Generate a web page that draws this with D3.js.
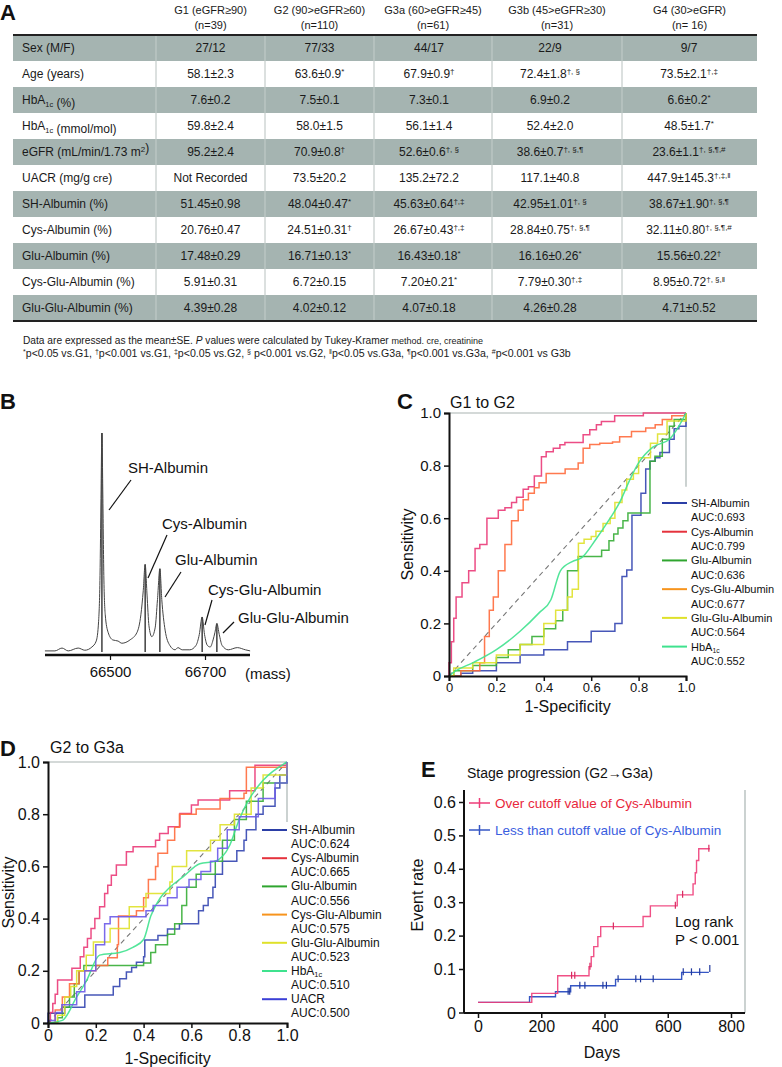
<!DOCTYPE html>
<html><head><meta charset="utf-8">
<script src="https://cdn.jsdelivr.net/npm/d3@7"></script>
<style>body{margin:0;background:#fff}svg{display:block;font-family:"Liberation Sans",Arial,Helvetica,sans-serif}</style>
</head><body>
<svg id="fig" width="782" height="1067"></svg>
<script>
// ---------------- DATA ----------------
const groupNames = ["G1 (eGFR≥90)", "G2 (90>eGFR≥60)", "G3a (60>eGFR≥45)", "G3b (45>eGFR≥30)", "G4 (30>eGFR)"];
const groupN = ["(n=39)", "(n=110)", "(n=61)", "(n=31)", "(n= 16)"];
const rowLabels = [
  [["Sex (M/F)", ""]],
  [["Age (years)", ""]],
  [["HbA", ""], ["1c", "sub"], [" (%)", ""]],
  [["HbA", ""], ["1c", "sub"], [" (mmol/mol)", ""]],
  [["eGFR (mL/min/1.73 m", ""], ["2", "sup"], [")", ""]],
  [["UACR (mg/g", ""], [" cre", "small"], [")", ""]],
  [["SH-Albumin (%)", ""]],
  [["Cys-Albumin (%)", ""]],
  [["Glu-Albumin (%)", ""]],
  [["Cys-Glu-Albumin (%)", ""]],
  [["Glu-Glu-Albumin (%)", ""]]
];
const tableValues = [
  [["27/12",""],["77/33",""],["44/17",""],["22/9",""],["9/7",""]],
  [["58.1±2.3",""],["63.6±0.9","*"],["67.9±0.9","†"],["72.4±1.8","†, §"],["73.5±2.1","†,‡"]],
  [["7.6±0.2",""],["7.5±0.1",""],["7.3±0.1",""],["6.9±0.2",""],["6.6±0.2","*"]],
  [["59.8±2.4",""],["58.0±1.5",""],["56.1±1.4",""],["52.4±2.0",""],["48.5±1.7","*"]],
  [["95.2±2.4",""],["70.9±0.8","†"],["52.6±0.6","†, §"],["38.6±0.7","†, §,¶"],["23.6±1.1","†, §,¶,#"]],
  [["Not Recorded",""],["73.5±20.2",""],["135.2±72.2",""],["117.1±40.8",""],["447.9±145.3","†,‡,‖"]],
  [["51.45±0.98",""],["48.04±0.47","*"],["45.63±0.64","†,‡"],["42.95±1.01","†, §"],["38.67±1.90","†, §,¶"]],
  [["20.76±0.47",""],["24.51±0.31","†"],["26.67±0.43","†,‡"],["28.84±0.75","†, §,¶"],["32.11±0.80","†, §,¶,#"]],
  [["17.48±0.29",""],["16.71±0.13","*"],["16.43±0.18","*"],["16.16±0.26","*"],["15.56±0.22","†"]],
  [["5.91±0.31",""],["6.72±0.15",""],["7.20±0.21","*"],["7.79±0.30","†,‡"],["8.95±0.72","†, §,‖"]],
  [["4.39±0.28",""],["4.02±0.12",""],["4.07±0.18",""],["4.26±0.28",""],["4.71±0.52",""]]
];
const footnote2 = [["*","p<0.05 vs.G1, "],["†","p<0.001 vs.G1, "],["‡","p<0.05 vs.G2, "],[" §"," p<0.001 vs.G2, "],["‖","p<0.05 vs.G3a, "],["¶","p<0.001 vs.G3a, "],["#","p<0.001 vs G3b"]];

// Panel B: spectrum (mass, relative intensity)
const spectrum = [[66363,0.5],[66384,0.5],[66399,1.8],[66412,0.5],[66433,1.8],[66447,0.8],[66462,2.3],[66471,5],[66476,14],[66479,35],[66481,70],[66483,100],[66485,70],[66487,35],[66490,17],[66496,9],[66506,5.5],[66517,5],[66525,4],[66542,5.5],[66557,9],[66565,17],[66570,28],[66574,40],[66578,26],[66582,12],[66588,7],[66595,11],[66600,24],[66605,38],[66609,24],[66616,10],[66626,3],[66637,1],[66643,2],[66652,1],[66668,1],[66681,3],[66688,8],[66694,16],[66699,8],[66705,3],[66711,2.3],[66717,5.5],[66721,9],[66725,13],[66730,8],[66736,3],[66749,1],[66768,2],[66785,1],[66795,0.5]];
const peakMass = [66483, 66574, 66605, 66694, 66725];
const peakHeight = [100, 40, 38, 16, 13];
const peakNames = ["SH-Albumin", "Cys-Albumin", "Glu-Albumin", "Cys-Glu-Albumin", "Glu-Glu-Albumin"];
const massTicks = [66500, 66700];

// Panel C: ROC G1 to G2 (step points: at fpr x the curve rises to tpr y)
const rocC_SH = [[0,0],[0.05,0.01],[0.1,0.02],[0.2,0.05],[0.3,0.08],[0.4,0.1],[0.5,0.13],[0.6,0.17],[0.7,0.2],[0.73,0.378],[0.75,0.403],[0.772,0.611],[0.81,0.695],[0.83,0.787],[0.848,0.817],[0.87,0.83],[0.89,0.85],[0.93,0.9],[0.95,0.94],[0.97,0.95],[1,1]];
const rocC_Cys = [[0,0],[0,0.05],[0.01,0.13],[0.02,0.22],[0.03,0.3],[0.055,0.355],[0.083,0.4],[0.11,0.485],[0.13,0.5],[0.16,0.6],[0.208,0.63],[0.236,0.64],[0.264,0.66],[0.285,0.68],[0.313,0.71],[0.335,0.72],[0.36,0.76],[0.39,0.834],[0.41,0.853],[0.44,0.866],[0.468,0.879],[0.489,0.888],[0.566,0.917],[0.594,0.936],[0.622,0.955],[0.643,0.968],[0.699,0.99],[0.82,1],[1,1]];
const rocC_Glu = [[0,0],[0.02,0.02],[0.1,0.04],[0.2,0.07],[0.25,0.1],[0.3,0.12],[0.35,0.15],[0.4,0.18],[0.45,0.21],[0.48,0.25],[0.5,0.4],[0.545,0.454],[0.644,0.478],[0.675,0.514],[0.695,0.54],[0.713,0.563],[0.734,0.59],[0.755,0.62],[0.848,0.817],[0.869,0.836],[0.9,0.9],[0.93,0.95],[0.95,0.975],[1,1]];
const rocC_CysGlu = [[0,0],[0.05,0.02],[0.13,0.05],[0.15,0.15],[0.17,0.25],[0.187,0.3],[0.208,0.4],[0.236,0.5],[0.264,0.59],[0.292,0.63],[0.313,0.67],[0.335,0.695],[0.36,0.716],[0.38,0.735],[0.41,0.77],[0.49,0.787],[0.545,0.81],[0.566,0.866],[0.594,0.88],[0.636,0.885],[0.69,0.89],[0.72,0.91],[0.77,0.93],[0.83,0.943],[0.87,0.955],[0.9,0.975],[0.94,0.99],[1,1]];
const rocC_GluGlu = [[0,0],[0.02,0.03],[0.1,0.05],[0.2,0.08],[0.3,0.12],[0.4,0.2],[0.45,0.25],[0.5,0.3],[0.52,0.33],[0.546,0.505],[0.57,0.52],[0.6,0.53],[0.62,0.55],[0.65,0.58],[0.68,0.6],[0.7,0.66],[0.73,0.707],[0.75,0.748],[0.778,0.77],[0.8,0.83],[0.85,0.885],[0.88,0.92],[0.92,0.97],[1,1]];
const rocC_HbA1c = [[0,0],[0.03,0.02],[0.1,0.05],[0.2,0.1],[0.3,0.17],[0.38,0.24],[0.43,0.29],[0.47,0.4],[0.52,0.435],[0.56,0.45],[0.62,0.52],[0.68,0.6],[0.72,0.66],[0.76,0.74],[0.8,0.81],[0.86,0.87],[0.93,0.9],[0.97,0.95],[1,1]];
const aucC = ["0.693", "0.799", "0.636", "0.677", "0.564", "0.552"];

// Panel D: ROC G2 to G3a
const rocD_SH = [[0,0],[0,0.037],[0.07,0.06],[0.154,0.107],[0.273,0.14],[0.3,0.17],[0.328,0.195],[0.35,0.213],[0.37,0.233],[0.4,0.254],[0.405,0.318],[0.46,0.335],[0.5,0.36],[0.55,0.38],[0.63,0.43],[0.65,0.45],[0.67,0.48],[0.69,0.52],[0.7,0.57],[0.73,0.62],[0.79,0.66],[0.82,0.7],[0.83,0.74],[0.87,0.8],[0.9,0.83],[0.95,0.9],[0.97,0.95],[1,1]];
const rocD_Cys = [[0,0],[0.01,0.04],[0.02,0.075],[0.03,0.11],[0.04,0.165],[0.1,0.21],[0.135,0.254],[0.15,0.29],[0.165,0.324],[0.18,0.362],[0.196,0.4],[0.216,0.445],[0.237,0.496],[0.25,0.528],[0.265,0.566],[0.286,0.605],[0.328,0.656],[0.356,0.675],[0.45,0.7],[0.467,0.726],[0.503,0.752],[0.552,0.803],[0.6,0.835],[0.628,0.854],[0.76,0.89],[0.866,0.988],[1,1]];
const rocD_Glu = [[0,0],[0.04,0.02],[0.06,0.06],[0.09,0.1],[0.11,0.15],[0.13,0.2],[0.15,0.22],[0.4,0.23],[0.43,0.27],[0.45,0.3],[0.5,0.34],[0.53,0.38],[0.56,0.45],[0.58,0.52],[0.62,0.57],[0.7,0.62],[0.73,0.7],[0.78,0.78],[0.83,0.85],[0.9,0.92],[1,1]];
const rocD_CysGlu = [[0,0],[0.03,0.05],[0.06,0.1],[0.09,0.15],[0.13,0.2],[0.2,0.22],[0.25,0.25],[0.29,0.3],[0.295,0.41],[0.37,0.43],[0.4,0.48],[0.42,0.55],[0.45,0.6],[0.46,0.65],[0.5,0.7],[0.53,0.75],[0.55,0.8],[0.62,0.82],[0.72,0.86],[0.82,0.88],[0.83,0.98],[1,1]];
const rocD_GluGlu = [[0,0],[0.04,0.03],[0.07,0.1],[0.095,0.14],[0.12,0.2],[0.16,0.26],[0.19,0.31],[0.26,0.362],[0.34,0.445],[0.41,0.496],[0.51,0.54],[0.52,0.6],[0.58,0.66],[0.68,0.7],[0.72,0.76],[0.78,0.8],[0.85,0.9],[0.9,0.95],[1,1]];
const rocD_HbA1c = [[0,0],[0.06,0.01],[0.12,0.1],[0.16,0.16],[0.216,0.26],[0.3,0.27],[0.355,0.29],[0.4,0.32],[0.43,0.41],[0.47,0.48],[0.51,0.52],[0.565,0.56],[0.635,0.61],[0.7,0.62],[0.76,0.68],[0.8,0.78],[0.85,0.87],[0.9,0.93],[1,1]];
const rocD_UACR = [[0,0],[0,0.01],[0.03,0.04],[0.058,0.07],[0.12,0.12],[0.154,0.2],[0.2,0.3],[0.237,0.38],[0.26,0.407],[0.41,0.43],[0.44,0.45],[0.5,0.48],[0.54,0.52],[0.59,0.55],[0.64,0.58],[0.68,0.62],[0.71,0.67],[0.75,0.74],[0.8,0.79],[0.88,0.86],[0.95,0.92],[1,1]];
const aucD = ["0.624", "0.665", "0.556", "0.575", "0.523", "0.510", "0.500"];

// Panel E: Kaplan-Meier (days, event rate)
const kmOver = [[0,0],[170,0.027],[252,0.08],[351,0.107],[358,0.137],[366,0.167],[379,0.197],[388,0.227],[522,0.257],[545,0.289],[630,0.322],[680,0.355],[687,0.388],[691,0.425],[698,0.46],[733,0.46]];
const kmOverCensor = [[296,0.08],[306,0.08],[354,0.107],[428,0.227],[624,0.289],[647,0.322],[730,0.46]];
const kmLess = [[0,0],[163,0.017],[245,0.032],[293,0.05],[435,0.069],[644,0.09],[730,0.09]];
const kmLessCensor = [[285,0.032],[290,0.032],[322,0.05],[338,0.05],[395,0.05],[406,0.05],[443,0.069],[499,0.069],[514,0.069],[554,0.069],[649,0.09],[675,0.09],[701,0.09],[733,0.1]];
const kmTicksY = [0.1, 0.2, 0.3, 0.4, 0.5, 0.6];
const kmTicksX = [0, 200, 400, 600, 800];
const kmLegend = ["Over cutoff value of Cys-Albumin", "Less than cutoff value of Cys-Albumin"];

// ---------------- DRAW ----------------
const svg = d3.select("#fig");
svg.append("rect").attr("width", 782).attr("height", 1067).attr("fill", "#fff");
const ink = "#111";

function panelLabel(t, x, y) {
  svg.append("text").attr("x", x).attr("y", y).attr("font-size", 22).attr("font-weight", "bold").attr("fill", ink).text(t);
}

// ---- Panel A: table ----
panelLabel("A", 0, 20);
const colX = [13, 156, 265, 374, 492, 622, 757];
const valX = [210.5, 319.5, 429, 550, 689];
const rowTop = 35, rowH = 26;
const tA = svg.append("g");
tableValues.forEach((row, i) => {
  const y0 = rowTop + i * rowH;
  const shaded = i % 2 === 0;
  if (shaded) tA.append("rect").attr("x", colX[0]).attr("y", y0).attr("width", colX[6] - colX[0]).attr("height", rowH).attr("fill", "#a5b4b1");
  for (let c = 1; c <= 5; c++) {
    tA.append("line").attr("x1", colX[c]).attr("x2", colX[c]).attr("y1", y0).attr("y2", y0 + rowH)
      .attr("stroke", shaded ? "#c4cecb" : "#b8c1bf").attr("stroke-width", 1);
  }
  const lt = tA.append("text").attr("x", 22).attr("y", y0 + 17).attr("font-size", 12).attr("fill", "#1a1a1a");
  rowLabels[i].forEach(([s, k]) => {
    if (k === "sub") { lt.append("tspan").attr("font-size", 7.5).attr("dy", 2.5).text(s); lt.append("tspan").attr("dy", -2.5).text(""); }
    else if (k === "sup") { lt.append("tspan").attr("font-size", 8).attr("dy", -4).text(s); lt.append("tspan").attr("dy", 4).text(""); }
    else if (k === "small") { lt.append("tspan").attr("font-size", 11).text(s); }
    else lt.append("tspan").text(s);
  });
  row.forEach(([v, sup], c) => {
    const t = tA.append("text").attr("x", valX[c]).attr("y", y0 + 17).attr("font-size", 12).attr("text-anchor", "middle").attr("fill", "#1a1a1a");
    t.append("tspan").text(v);
    if (sup) { t.append("tspan").attr("font-size", 8).attr("dy", -4.5).text(sup); }
  });
});
tA.append("line").attr("x1", colX[0]).attr("x2", colX[6]).attr("y1", rowTop).attr("y2", rowTop).attr("stroke", "#222").attr("stroke-width", 2);
tA.append("line").attr("x1", colX[0]).attr("x2", colX[6]).attr("y1", rowTop + rowH * tableValues.length).attr("y2", rowTop + rowH * tableValues.length).attr("stroke", "#222").attr("stroke-width", 2);
groupNames.forEach((g, c) => {
  const cx = (colX[c + 1] + colX[c + 2]) / 2;
  tA.append("text").attr("x", cx).attr("y", 14).attr("font-size", 11).attr("text-anchor", "middle").attr("fill", "#1a1a1a").text(g);
  tA.append("text").attr("x", cx).attr("y", 29).attr("font-size", 11).attr("text-anchor", "middle").attr("fill", "#1a1a1a").text(groupN[c]);
});
// footnotes
const f1 = svg.append("text").attr("x", 23).attr("y", 344).attr("font-size", 10.2).attr("fill", "#1a1a1a");
f1.append("tspan").text("Data are expressed as the mean±SE. ");
f1.append("tspan").attr("font-style", "italic").text("P");
f1.append("tspan").text(" values were calculated by Tukey-Kramer ");
f1.append("tspan").attr("font-size", 9).text("method. cre, creatinine");
const f2 = svg.append("text").attr("x", 23).attr("y", 357).attr("font-size", 10.6).attr("fill", "#1a1a1a");
footnote2.forEach(([s, t]) => {
  f2.append("tspan").attr("font-size", 7).attr("dy", -3.5).text(s);
  f2.append("tspan").attr("dy", 3.5).text(t);
});

// ---- Panel B: spectrum ----
panelLabel("B", 0, 409);
const bx = d3.scaleLinear().domain([66500, 66700]).range([110, 205]);
const by = d3.scaleLinear().domain([0, 100]).range([652, 433]);
const gB = svg.append("g");
gB.selectAll("line.stick").data(peakMass).join("line").attr("class", "stick")
  .attr("x1", d => bx(d)).attr("x2", d => bx(d)).attr("y1", by(0)).attr("y2", (d, i) => by(peakHeight[i]))
  .attr("stroke", "#222").attr("stroke-width", 1.3);
gB.append("path").datum(spectrum).attr("fill", "none").attr("stroke", "#444").attr("stroke-width", 1)
  .attr("d", d3.line().x(d => bx(d[0])).y(d => by(d[1])).curve(d3.curveMonotoneX));
const axB = gB.append("g").attr("transform", "translate(0,655)")
  .call(d3.axisBottom(bx).tickValues(massTicks).tickSize(5).tickPadding(6).tickFormat(d3.format("d")));
axB.select(".domain").remove();
axB.selectAll("line").attr("stroke", ink).attr("stroke-width", 1.2);
axB.selectAll("text").attr("font-size", 15).attr("fill", ink).attr("font-family", "inherit");
gB.append("line").attr("x1", 45).attr("x2", 250).attr("y1", 655).attr("y2", 655).attr("stroke", ink).attr("stroke-width", 2.5);
gB.append("text").attr("x", 245).attr("y", 679).attr("font-size", 15).attr("fill", ink).text("(mass)");
const annLayout = [
  {tx: 128, ty: 473, l: [131, 480, 109, 510]},
  {tx: 162, ty: 529, l: [167, 535, 148, 578]},
  {tx: 175, ty: 565, l: [181, 572, 165, 597]},
  {tx: 208, ty: 595, l: [212, 600, 205, 625]},
  {tx: 238, ty: 623, l: [234, 622, 223, 633]}
];
peakNames.forEach((n, i) => {
  const a = annLayout[i];
  gB.append("text").attr("x", a.tx).attr("y", a.ty).attr("font-size", 15).attr("fill", ink).text(n);
  gB.append("line").attr("x1", a.l[0]).attr("y1", a.l[1]).attr("x2", a.l[2]).attr("y2", a.l[3]).attr("stroke", ink).attr("stroke-width", 1.2);
});

// ---- ROC helper ----
function rocPanel(opt) {
  const x = d3.scaleLinear().domain([0, 1]).range([opt.x0, opt.x1]);
  const y = d3.scaleLinear().domain([0, 1]).range([opt.y0, opt.y1]);
  const g = svg.append("g");
  g.append("line").attr("x1", x(0)).attr("x2", x(1)).attr("y1", y(1)).attr("y2", y(1)).attr("stroke", "#a9b4b2").attr("stroke-width", 1.2);
  g.append("line").attr("x1", x(1)).attr("x2", x(1)).attr("y1", y(1)).attr("y2", y(opt.rightEnd)).attr("stroke", "#a9b4b2").attr("stroke-width", 1.2);
  g.append("line").attr("x1", x(0)).attr("y1", y(0)).attr("x2", x(1)).attr("y2", y(1)).attr("stroke", "#777").attr("stroke-dasharray", "5,4").attr("stroke-width", 1.1);
  opt.series.forEach(s => {
    g.append("path").datum(s.data).attr("fill", "none").attr("stroke", s.color).attr("stroke-width", 1.5).attr("stroke-opacity", 0.9)
      .attr("d", d3.line().x(d => x(d[0])).y(d => y(d[1])).curve(s.smooth ? d3.curveMonotoneX : d3.curveStepAfter));
  });
  const ticks = [0, 0.2, 0.4, 0.6, 0.8, 1.0];
  const fmt = d => d === 0 ? "0" : d.toFixed(1);
  const ay = g.append("g").attr("transform", `translate(${x(0)},0)`).call(d3.axisLeft(y).tickValues(ticks).tickFormat(fmt).tickSize(5).tickPadding(3));
  const ax = g.append("g").attr("transform", `translate(0,${y(0)})`).call(d3.axisBottom(x).tickValues(ticks).tickFormat(fmt).tickSize(5).tickPadding(2));
  [ay, ax].forEach(a => {
    a.select(".domain").attr("stroke", ink).attr("stroke-width", 2);
    a.selectAll("line").attr("stroke", ink).attr("stroke-width", 1.5);
    a.selectAll("text").attr("fill", ink).attr("font-family", "inherit");
  });
  ay.selectAll("text").attr("font-size", opt.yTickSize);
  ax.selectAll("text").attr("font-size", opt.xTickSize);
  g.append("text").attr("x", (x(0) + x(1)) / 2).attr("y", opt.xTitleY).attr("text-anchor", "middle").attr("font-size", 16).attr("fill", ink).text("1-Specificity");
  g.append("text").attr("transform", `translate(${opt.yTitleX},${(y(0) + y(1)) / 2}) rotate(-90)`).attr("text-anchor", "middle").attr("font-size", 16).attr("fill", ink).text("Sensitivity");
  g.append("text").attr("x", opt.titleX).attr("y", opt.titleY).attr("font-size", 16).attr("fill", ink).text(opt.title);
  opt.series.forEach((s, i) => {
    const ly = opt.legY + i * 2 * opt.legStep;
    g.append("line").attr("x1", opt.legX).attr("x2", opt.legX + 25).attr("y1", ly).attr("y2", ly).attr("stroke", s.legColor).attr("stroke-width", 2);
    const t = g.append("text").attr("x", opt.legX + 29).attr("y", ly + 4).attr("font-size", opt.legFont).attr("fill", ink);
    if (s.name === "HbA1c") { t.append("tspan").text("HbA"); t.append("tspan").attr("font-size", opt.legFont * 0.62).attr("dy", 2).text("1c"); }
    else t.text(s.name);
    g.append("text").attr("x", opt.legX + 29).attr("y", ly + opt.legStep + 4).attr("font-size", opt.legFont).attr("fill", ink).text("AUC:" + s.auc);
  });
}

const colSH = "#3345b0", colCys = "#ea3a78", colGlu = "#35ad35", colCysGlu = "#ff6a3c", colGluGlu = "#dfe12a", colHb = "#3fe28e", colUACR = "#6c5ae8";

panelLabel("C", 397, 409);
rocPanel({
  x0: 449, x1: 686, y0: 676, y1: 413, rightEnd: 0.72,
  title: "G1 to G2", titleX: 450, titleY: 408,
  yTickSize: 15, xTickSize: 13, xTitleY: 712, yTitleX: 413,
  legX: 662, legY: 503, legStep: 14.36, legFont: 11,
  series: [
    {name: "SH-Albumin", auc: aucC[0], data: rocC_SH, color: colSH, legColor: "#2b3ea6"},
    {name: "Cys-Albumin", auc: aucC[1], data: rocC_Cys, color: colCys, legColor: "#e5323c"},
    {name: "Glu-Albumin", auc: aucC[2], data: rocC_Glu, color: colGlu, legColor: "#2fa52f"},
    {name: "Cys-Glu-Albumin", auc: aucC[3], data: rocC_CysGlu, color: colCysGlu, legColor: "#f7941d"},
    {name: "Glu-Glu-Albumin", auc: aucC[4], data: rocC_GluGlu, color: colGluGlu, legColor: "#dfe12a"},
    {name: "HbA1c", auc: aucC[5], data: rocC_HbA1c, color: colHb, legColor: colHb, smooth: true}
  ]
});

panelLabel("D", 0, 756);
rocPanel({
  x0: 48, x1: 287, y0: 1023, y1: 762, rightEnd: 0.77,
  title: "G2 to G3a", titleX: 50, titleY: 753,
  yTickSize: 16, xTickSize: 16, xTitleY: 1064, yTitleX: 14,
  legX: 262, legY: 830, legStep: 14.1, legFont: 12,
  series: [
    {name: "SH-Albumin", auc: aucD[0], data: rocD_SH, color: colSH, legColor: "#2b3ea6"},
    {name: "Cys-Albumin", auc: aucD[1], data: rocD_Cys, color: colCys, legColor: "#e5323c"},
    {name: "Glu-Albumin", auc: aucD[2], data: rocD_Glu, color: colGlu, legColor: "#2fa52f"},
    {name: "Cys-Glu-Albumin", auc: aucD[3], data: rocD_CysGlu, color: colCysGlu, legColor: "#f7941d"},
    {name: "Glu-Glu-Albumin", auc: aucD[4], data: rocD_GluGlu, color: colGluGlu, legColor: "#dfe12a"},
    {name: "HbA1c", auc: aucD[5], data: rocD_HbA1c, color: colHb, legColor: colHb, smooth: true},
    {name: "UACR", auc: aucD[6], data: rocD_UACR, color: colUACR, legColor: "#3b3fd6"}
  ]
});

// ---- Panel E: Kaplan-Meier ----
panelLabel("E", 421, 777);
const ex = d3.scaleLinear().domain([0, 800]).range([478, 731]);
const ey = d3.scaleLinear().domain([0, 0.6]).range([1002.4, 802]);
const gE = svg.append("g");
const axisY = 1013;
gE.append("text").attr("x", 467).attr("y", 778).attr("font-size", 14).attr("fill", ink).text("Stage progression (G2→G3a)");
gE.append("line").attr("x1", 745).attr("x2", 745).attr("y1", 790).attr("y2", axisY).attr("stroke", "#a9b4b2").attr("stroke-width", 1.2);
const kmLine = d3.line().x(d => ex(d[0])).y(d => ey(d[1])).curve(d3.curveStepAfter);
const colOver = "#ee3d79", colLess = "#3556c4";
gE.append("path").datum(kmLess).attr("fill", "none").attr("stroke", colLess).attr("stroke-width", 1.4).attr("d", kmLine);
gE.append("path").datum(kmOver).attr("fill", "none").attr("stroke", colOver).attr("stroke-width", 1.4).attr("stroke-opacity", 0.9).attr("d", kmLine);
gE.selectAll("line.cl").data(kmLessCensor).join("line").attr("class", "cl")
  .attr("x1", d => ex(d[0])).attr("x2", d => ex(d[0])).attr("y1", d => ey(d[1]) - 4).attr("y2", d => ey(d[1]) + 3).attr("stroke", "#223a9e").attr("stroke-width", 1.2);
gE.selectAll("line.co").data(kmOverCensor).join("line").attr("class", "co")
  .attr("x1", d => ex(d[0])).attr("x2", d => ex(d[0])).attr("y1", d => ey(d[1]) - 4).attr("y2", d => ey(d[1]) + 3).attr("stroke", "#d92a60").attr("stroke-width", 1.2);
const eyAxis = gE.append("g").attr("transform", "translate(464,0)").call(d3.axisLeft(ey).tickValues(kmTicksY).tickFormat(d3.format(".1f")).tickSize(5).tickPadding(3));
eyAxis.select(".domain").remove();
gE.append("line").attr("x1", 464).attr("x2", 464).attr("y1", 790).attr("y2", axisY).attr("stroke", ink).attr("stroke-width", 2);
gE.append("line").attr("x1", 459).attr("x2", 464).attr("y1", axisY).attr("y2", axisY).attr("stroke", ink).attr("stroke-width", 1.5);
gE.append("text").attr("x", 456).attr("y", axisY + 6).attr("text-anchor", "end").attr("font-size", 16).attr("fill", ink).text("0");
const exAxis = gE.append("g").attr("transform", `translate(0,${axisY})`).call(d3.axisBottom(ex).tickValues(kmTicksX).tickSize(5).tickPadding(3));
exAxis.select(".domain").remove();
gE.append("line").attr("x1", 464).attr("x2", 745).attr("y1", axisY).attr("y2", axisY).attr("stroke", ink).attr("stroke-width", 2);
[eyAxis, exAxis].forEach(a => {
  a.selectAll("line").attr("stroke", ink).attr("stroke-width", 1.5);
  a.selectAll("text").attr("font-size", 16).attr("fill", ink).attr("font-family", "inherit");
});
gE.append("text").attr("x", 602).attr("y", 1058).attr("text-anchor", "middle").attr("font-size", 16).attr("fill", ink).text("Days");
gE.append("text").attr("transform", "translate(423,895) rotate(-90)").attr("text-anchor", "middle").attr("font-size", 16).attr("fill", ink).text("Event rate");
[[colOver, "#e8283c"], [colLess, "#3a5ee0"]].forEach(([lc, tc], i) => {
  const ly = 803 + i * 27;
  gE.append("line").attr("x1", 469).attr("x2", 490).attr("y1", ly).attr("y2", ly).attr("stroke", lc).attr("stroke-width", 1.5);
  gE.append("line").attr("x1", 479.5).attr("x2", 479.5).attr("y1", ly - 5).attr("y2", ly + 5).attr("stroke", lc).attr("stroke-width", 1.5);
  gE.append("text").attr("x", 495).attr("y", ly + 5).attr("font-size", 13.5).attr("fill", tc).text(kmLegend[i]);
});
gE.append("text").attr("x", 675).attr("y", 927).attr("font-size", 15).attr("fill", ink).text("Log rank");
gE.append("text").attr("x", 675).attr("y", 945).attr("font-size", 15).attr("fill", ink).text("P < 0.001");
</script>
</body></html>
